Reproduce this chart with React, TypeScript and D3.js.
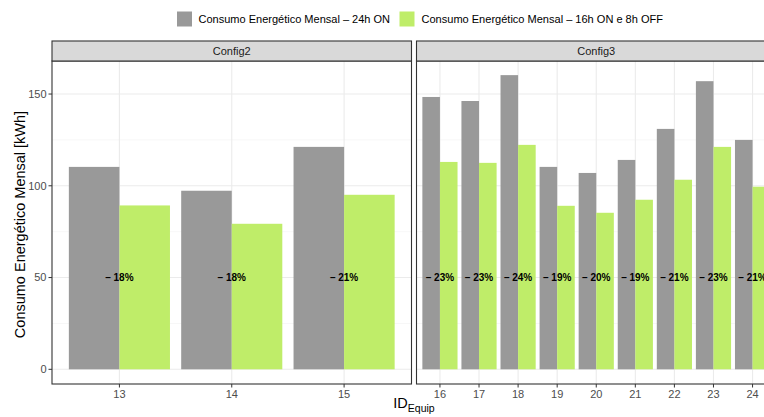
import React from "react";
import * as d3 from "d3";

const series = ["Consumo Energético Mensal – 24h ON", "Consumo Energético Mensal – 16h ON e 8h OFF"];
const colors = ["#999999", "#BFED69"];

const config2Ids = ["13", "14", "15"];
const config2On = [110.3, 97.3, 121.2];
const config2Off = [89.3, 79.3, 95.1];
const config2Labels = ["– 18%", "– 18%", "– 21%"];

const config3Ids = ["16", "17", "18", "19", "20", "21", "22", "23", "24"];
const config3On = [148.4, 146.2, 160.3, 110.3, 107.0, 114.1, 131.0, 157.0, 125.0];
const config3Off = [113.0, 112.5, 122.3, 89.1, 85.3, 92.4, 103.3, 121.2, 99.5];
const config3Labels = ["– 23%", "– 23%", "– 24%", "– 19%", "– 20%", "– 19%", "– 21%", "– 23%", "– 21%"];

const yMajor = [0, 50, 100, 150];
const yMinor = [25, 75, 125];
const labelY = 50;

const W = 764;
const H = 417;
const stripTop = 41;
const panelTop = 61;
const panelBottom = 384;
const font = "'Liberation Sans', Arial, Helvetica, sans-serif";

const y = d3.scaleLinear().domain([-8, 168]).range([panelBottom, panelTop]);

type PanelProps = {
  x0: number;
  x1: number;
  title: string;
  ids: string[];
  on: number[];
  off: number[];
  labels: string[];
  showY: boolean;
};

function Panel({ x0, x1, title, ids, on, off, labels, showY }: PanelProps) {
  const x = d3.scaleBand<string>().domain(ids).range([x0, x1]).paddingInner(0.1).paddingOuter(0.15);
  const sub = d3.scaleBand<number>().domain([0, 1]).range([0, x.bandwidth()]);
  const clipId = "clip" + title;
  return (
    <g>
      <defs>
        <clipPath id={clipId}>
          <rect x={x0} y={panelTop} width={x1 - x0} height={panelBottom - panelTop} />
        </clipPath>
      </defs>
      <g clipPath={`url(#${clipId})`}>
        {yMinor.map((v) => (
          <line key={"mi" + v} x1={x0} x2={x1} y1={y(v)} y2={y(v)} stroke="#F2F2F2" strokeWidth={0.6} />
        ))}
        {yMajor.map((v) => (
          <line key={"ma" + v} x1={x0} x2={x1} y1={y(v)} y2={y(v)} stroke="#EBEBEB" strokeWidth={1.1} />
        ))}
        {ids.map((id) => {
          const cx = (x(id) as number) + x.bandwidth() / 2;
          return <line key={"v" + id} x1={cx} x2={cx} y1={panelTop} y2={panelBottom} stroke="#EBEBEB" strokeWidth={1.1} />;
        })}
        {ids.map((id, i) => {
          const bx = x(id) as number;
          return (
            <g key={"b" + id}>
              <rect x={bx + (sub(0) as number)} width={sub.bandwidth()} y={y(on[i])} height={y(0) - y(on[i])} fill={colors[0]} />
              <rect x={bx + (sub(1) as number)} width={sub.bandwidth()} y={y(off[i])} height={y(0) - y(off[i])} fill={colors[1]} />
            </g>
          );
        })}
        {ids.map((id, i) => {
          const cx = (x(id) as number) + x.bandwidth() / 2;
          return (
            <text key={"l" + id} x={cx} y={y(labelY)} dy="0.35em" textAnchor="middle" fontFamily={font} fontWeight="bold" fontSize={10} fill="#000">
              {labels[i]}
            </text>
          );
        })}
      </g>
      <rect x={x0} y={panelTop} width={x1 - x0} height={panelBottom - panelTop} fill="none" stroke="#333333" strokeWidth={1.1} />
      <rect x={x0} y={stripTop} width={x1 - x0} height={panelTop - stripTop} fill="#D9D9D9" stroke="#333333" strokeWidth={1.1} />
      <text x={(x0 + x1) / 2} y={(stripTop + panelTop) / 2} dy="0.35em" textAnchor="middle" fontFamily={font} fontSize={11} fill="#1A1A1A">
        {title}
      </text>
      {ids.map((id) => {
        const cx = (x(id) as number) + x.bandwidth() / 2;
        return (
          <g key={"t" + id}>
            <line x1={cx} x2={cx} y1={panelBottom} y2={panelBottom + 3.5} stroke="#333333" strokeWidth={1} />
            <text x={cx} y={panelBottom + 10} dy="0.35em" textAnchor="middle" fontFamily={font} fontSize={11} fill="#4D4D4D">
              {id}
            </text>
          </g>
        );
      })}
      {showY &&
        yMajor.map((v) => (
          <g key={"yt" + v}>
            <line x1={x0 - 3.5} x2={x0} y1={y(v)} y2={y(v)} stroke="#333333" strokeWidth={1} />
            <text x={x0 - 5.5} y={y(v)} dy="0.35em" textAnchor="end" fontFamily={font} fontSize={11} fill="#4D4D4D">
              {v}
            </text>
          </g>
        ))}
    </g>
  );
}

export default function App() {
  const legendItems = [
    { sx: 177, tx: 198.5, len: 191.5 },
    { sx: 399.5, tx: 421.5, len: 241.5 },
  ];
  return (
    <svg width={W} height={H} style={{ position: "absolute", left: 0, top: 0, background: "#fff" }}>
      <rect x={0} y={0} width={W} height={H} fill="#fff" />
      {legendItems.map((it, i) => (
        <g key={"lg" + i}>
          <rect x={it.sx} y={11.5} width={15} height={15} fill={colors[i]} />
          <text
            x={it.tx}
            y={19}
            dy="0.35em"
            fontFamily={font}
            fontSize={11.5}
            fill="#000"
            textLength={it.len}
            lengthAdjust="spacingAndGlyphs"
          >
            {series[i]}
          </text>
        </g>
      ))}
      <Panel x0={52} x1={411.5} title="Config2" ids={config2Ids} on={config2On} off={config2Off} labels={config2Labels} showY={true} />
      <Panel x0={416.5} x1={776} title="Config3" ids={config3Ids} on={config3On} off={config3Off} labels={config3Labels} showY={false} />
      <text transform={`translate(20,${(panelTop + panelBottom) / 2 + 2}) rotate(-90)`} dy="0.35em" textAnchor="middle" fontFamily={font} fontSize={14.5} fill="#000">
        Consumo Energético Mensal [kWh]
      </text>
      <text x={414} y={408} textAnchor="middle" fontFamily={font} fontSize={14.5} fill="#000">
        ID
        <tspan fontSize={10.5} dy={4}>Equip</tspan>
      </text>
    </svg>
  );
}
